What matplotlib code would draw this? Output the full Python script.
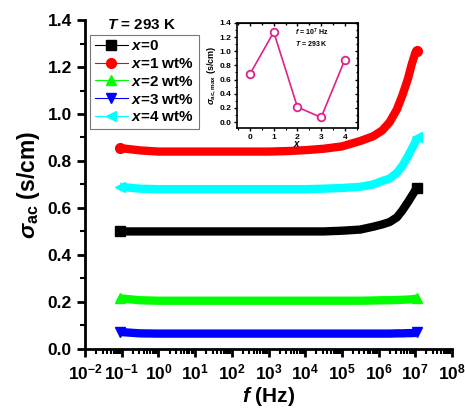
import numpy as np
import matplotlib
matplotlib.use("Agg")
import matplotlib.pyplot as plt
from matplotlib.ticker import LogLocator, LogFormatterMathtext, MultipleLocator, NullFormatter

plt.rcParams['font.family'] = ['Liberation Sans', 'DejaVu Sans']
plt.rcParams['font.weight'] = 'bold'
plt.rcParams['axes.labelweight'] = 'bold'
plt.rcParams['mathtext.fontset'] = 'custom'
plt.rcParams['mathtext.rm'] = 'Liberation Sans:bold'
plt.rcParams['mathtext.bf'] = 'Liberation Sans:bold'
plt.rcParams['mathtext.it'] = 'Liberation Sans:italic:bold'

# log10 of frequency (Hz)
log_f = [-1.05, -0.5, 0, 0.5, 1, 1.5, 2, 2.5, 3, 3.5, 4, 4.5, 5, 5.5,
         5.85, 6.1, 6.3, 6.5, 6.65, 6.8, 6.9, 7.0, 7.05]

sig_x0 = [0.50, 0.50, 0.50, 0.50, 0.50, 0.50, 0.50, 0.50, 0.50, 0.50, 0.50, 0.50,
          0.503, 0.508, 0.52, 0.53, 0.54, 0.56, 0.59, 0.625, 0.65, 0.675, 0.685]
sig_x1 = [0.855, 0.845, 0.84, 0.84, 0.84, 0.84, 0.84, 0.84, 0.84, 0.842, 0.846, 0.852,
          0.862, 0.885, 0.905, 0.93, 0.965, 1.02, 1.08, 1.15, 1.21, 1.26, 1.27]
sig_x2 = [0.215, 0.207, 0.205, 0.205, 0.205, 0.205, 0.205, 0.205, 0.205, 0.205, 0.205, 0.205,
          0.205, 0.205, 0.206, 0.207, 0.207, 0.208, 0.209, 0.21, 0.211, 0.213, 0.215]
sig_x3 = [0.072, 0.066, 0.065, 0.065, 0.065, 0.065, 0.065, 0.065, 0.065, 0.065, 0.065, 0.065,
          0.065, 0.065, 0.065, 0.065, 0.065, 0.066, 0.066, 0.067, 0.067, 0.068, 0.07]
sig_x4 = [0.69, 0.682, 0.68, 0.68, 0.68, 0.68, 0.68, 0.68, 0.68, 0.68, 0.68, 0.682,
          0.685, 0.69, 0.70, 0.715, 0.725, 0.75, 0.78, 0.82, 0.85, 0.88, 0.90]

labels = [r'$x$=0', r'$x$=1 wt%', r'$x$=2 wt%', r'$x$=3 wt%', r'$x$=4 wt%']
colors = ['black', '#ff0000', '#00ff00', '#0000ff', '#00ffff']
markers = ['s', 'o', '^', 'v', '<']

# inset: sigma_ac,max at 10^7 Hz
inset_x = [0, 1, 2, 3, 4]
inset_sig = [0.68, 1.27, 0.21, 0.065, 0.88]

freq = 10 ** np.array(log_f)
series = [sig_x0, sig_x1, sig_x2, sig_x3, sig_x4]

fig = plt.figure(figsize=(4.65, 4.09), dpi=100)
ax = fig.add_axes([0.183, 0.147, 0.789, 0.804])

# dense data drawn as a thick band, with the marker shape at both ends
for s, c, m in zip(series, colors, markers):
    ax.plot(freq, s, color=c, lw=6, marker=m, ms=7, mec=c, mfc=c,
            markevery=[0, len(s) - 1], solid_joinstyle='round', solid_capstyle='butt')

# legend proxies
handles = []
for c, m, lab in zip(colors, markers, labels):
    h, = ax.plot([], [], color=c, lw=0.8, marker=m, ms=7, label=lab)
    handles.append(h)
leg = ax.legend(handles=handles, loc='upper left', bbox_to_anchor=(0.005, 0.965),
                fontsize=11, frameon=True, fancybox=False, edgecolor='#555555',
                handlelength=2.2, handletextpad=0.2, borderpad=0.3, labelspacing=0.25,
                borderaxespad=0.2)
leg.get_frame().set_linewidth(0.8)

ax.text(0.155, 0.985, r'$T$ = 293 K', transform=ax.transAxes, fontsize=11,
        ha='center', va='center')

ax.set_xscale('log')
ax.set_xlim(1e-2, 1e8)
ax.set_ylim(0, 1.4)
ax.xaxis.set_major_locator(LogLocator(base=10, numticks=20))
ax.xaxis.set_major_formatter(LogFormatterMathtext())
ax.xaxis.set_minor_locator(LogLocator(base=10, subs=np.arange(2, 10), numticks=20))
ax.xaxis.set_minor_formatter(NullFormatter())
ax.yaxis.set_major_locator(MultipleLocator(0.2))
ax.yaxis.set_minor_locator(MultipleLocator(0.1))
ax.yaxis.set_major_formatter(plt.FuncFormatter(lambda v, p: f'{v:.1f}'))

for side in ['top', 'right']:
    ax.spines[side].set_visible(False)
for side in ['left', 'bottom']:
    ax.spines[side].set_linewidth(2)
ax.tick_params(which='major', direction='out', length=6, width=2, labelsize=12.5)
ax.tick_params(which='minor', direction='out', length=3.5, width=1.5)

ax.set_xlabel(r'$f$ (Hz)', fontsize=15, labelpad=2)
ax.set_ylabel(r'$\sigma_{\rm ac}$ (s/cm)', fontsize=16.5, labelpad=4)

# inset
ins = fig.add_axes([0.5097, 0.687, 0.260, 0.257])
ins.plot(inset_x, inset_sig, color='#e0218a', lw=1.2, marker='o', ms=5.5,
         mfc='white', mec='#e0218a', mew=1.3)
ins.set_xlim(-0.55, 4.55)
ins.set_ylim(-0.085, 1.4)
ins.xaxis.set_major_locator(MultipleLocator(1))
ins.xaxis.set_minor_locator(MultipleLocator(0.5))
ins.yaxis.set_major_locator(MultipleLocator(0.2))
ins.yaxis.set_minor_locator(MultipleLocator(0.1))
ins.yaxis.set_major_formatter(plt.FuncFormatter(lambda v, p: f'{v:.1f}'))
ins.tick_params(which='major', direction='out', length=2.5, width=1, labelsize=6, pad=1.5)
ins.tick_params(which='minor', direction='out', length=1.5, width=0.8)
for sp in ins.spines.values():
    sp.set_linewidth(1.2)
sec = ins.secondary_yaxis('right')
sec.yaxis.set_major_locator(MultipleLocator(0.2))
sec.yaxis.set_minor_locator(MultipleLocator(0.1))
sec.tick_params(which='both', direction='in', length=2.5, width=1, labelright=False)
sec.tick_params(which='minor', length=1.5)
secx = ins.secondary_xaxis('top')
secx.xaxis.set_major_locator(MultipleLocator(1))
secx.xaxis.set_minor_locator(MultipleLocator(0.5))
secx.tick_params(which='both', direction='in', length=2.5, width=1, labeltop=False)
secx.tick_params(which='minor', length=1.5)
ins.set_xlabel(r'$x$', fontsize=7, labelpad=-1)
ins.set_ylabel(r'$\sigma_{\rm ac,max}$ (s/cm)', fontsize=6.5, labelpad=1)
ins.text(0.48, 0.88, r'$f$ = 10$^7$ Hz', transform=ins.transAxes, fontsize=5, ha='left')
ins.text(0.48, 0.78, r'$T$ = 293 K', transform=ins.transAxes, fontsize=5, ha='left')

fig.savefig('out.png', dpi=100)
